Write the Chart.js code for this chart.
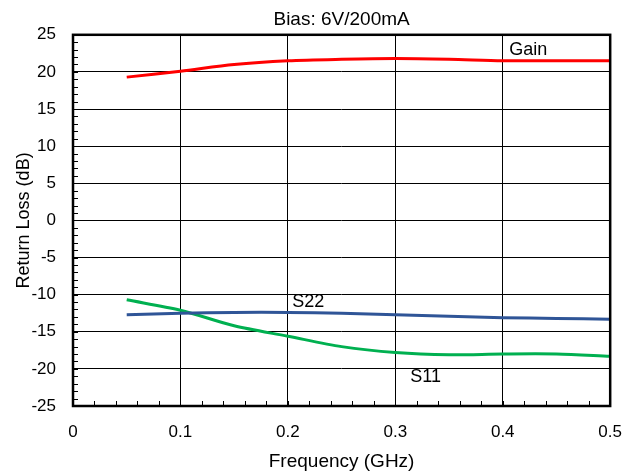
<!DOCTYPE html>
<html>
<head>
<meta charset="utf-8">
<script src="https://cdn.jsdelivr.net/npm/chart.js@4.4.1/dist/chart.umd.min.js"></script>
<style>
  html, body { margin: 0; padding: 0; background: #fff; }
  #wrap { width: 638px; height: 474px; }
</style>
</head>
<body>
<div id="wrap"><canvas id="chart" width="638" height="474"></canvas></div>
<script>
// frequency points (GHz)
const freqs = [0.05, 0.1, 0.15, 0.2, 0.25, 0.3, 0.35, 0.4, 0.45, 0.5];

// values in dB
const gain = [19.3, 20.1, 21.0, 21.5, 21.7, 21.8, 21.7, 21.5, 21.5, 21.5];
const s22 = [-12.7, -12.5, -12.4, -12.4, -12.5, -12.7, -12.9, -13.1, -13.2, -13.3];
const s11 = [-10.7, -12.1, -14.2, -15.6, -17.0, -17.8, -18.1, -18.0, -18.0, -18.3];

// curve names and where their text sits (GHz, dB)
const seriesNames = ['Gain', 'S22', 'S11'];
const labelFreq = [0.406, 0.204, 0.314];
const labelDb = [23.0, -11.0, -21.1];

const FONT = "'Liberation Sans', Arial, sans-serif";

const toPoints = (vals) => freqs.map((f, i) => ({ x: f, y: vals[i] }));

// inward minor ticks, frame and curve names
const extrasPlugin = {
    id: 'extras',
    afterDraw(chart) {
        const { ctx, chartArea: a, scales: { x, y } } = chart;
        ctx.save();
        ctx.strokeStyle = '#000';
        ctx.lineWidth = 1;
        ctx.beginPath();
        for (let v = -25; v <= 25; v += 1) {
            const py = Math.round(y.getPixelForValue(v)) + 0.5;
            ctx.moveTo(a.left, py);
            ctx.lineTo(a.left + 5, py);
        }
        for (let i = 0; i <= 25; i++) {
            const px = Math.round(x.getPixelForValue(i * 0.02)) + 0.5;
            ctx.moveTo(px, a.bottom);
            ctx.lineTo(px, a.bottom - 5);
        }
        ctx.stroke();

        ctx.lineWidth = 2.5;
        ctx.strokeRect(a.left, a.top, a.right - a.left, a.bottom - a.top);

        ctx.fillStyle = '#000';
        ctx.font = `18px ${FONT}`;
        ctx.textAlign = 'left';
        ctx.textBaseline = 'middle';
        seriesNames.forEach((name, i) => {
            ctx.fillText(name, x.getPixelForValue(labelFreq[i]), y.getPixelForValue(labelDb[i]));
        });
        ctx.restore();
    }
};

new Chart(document.getElementById('chart'), {
    type: 'line',
    data: {
        datasets: [
            { label: 'Gain', data: toPoints(gain), borderColor: '#FF0000' },
            { label: 'S22', data: toPoints(s22), borderColor: '#2F5597' },
            { label: 'S11', data: toPoints(s11), borderColor: '#00B050' }
        ]
    },
    options: {
        responsive: false,
        animation: false,
        events: [],
        layout: { padding: { left: 0, right: 26, top: 0, bottom: 0 } },
        elements: {
            line: { borderWidth: 3, tension: 0.3, fill: false },
            point: { radius: 0 }
        },
        plugins: {
            legend: { display: false },
            tooltip: { enabled: false },
            title: {
                display: true,
                fullSize: false,
                text: 'Bias: 6V/200mA',
                color: '#000',
                font: { family: FONT, size: 19, weight: 'normal' },
                padding: { top: 8, bottom: 4 }
            }
        },
        scales: {
            x: {
                type: 'linear',
                min: 0,
                max: 0.5,
                afterFit: (s) => { s.height = 68; },
                ticks: {
                    stepSize: 0.1,
                    color: '#000',
                    padding: 16,
                    maxRotation: 0,
                    font: { family: FONT, size: 17 },
                    callback: (v) => (v === 0 ? '0' : Number(v).toFixed(1))
                },
                grid: { color: '#000', lineWidth: 1, drawTicks: false },
                border: { display: false },
                title: {
                    display: true,
                    text: 'Frequency (GHz)',
                    color: '#000',
                    font: { family: FONT, size: 19 },
                    padding: { top: 0, bottom: 1 }
                }
            },
            y: {
                min: -25,
                max: 25,
                afterFit: (s) => { s.width = 73; },
                ticks: {
                    stepSize: 5,
                    color: '#000',
                    padding: 17,
                    font: { family: FONT, size: 17 }
                },
                grid: { color: '#000', lineWidth: 1, drawTicks: false },
                border: { display: false },
                title: {
                    display: true,
                    text: 'Return Loss (dB)',
                    color: '#000',
                    font: { family: FONT, size: 18 },
                    padding: { top: 13, bottom: 0 }
                }
            }
        }
    },
    plugins: [extrasPlugin]
});
</script>
</body>
</html>
